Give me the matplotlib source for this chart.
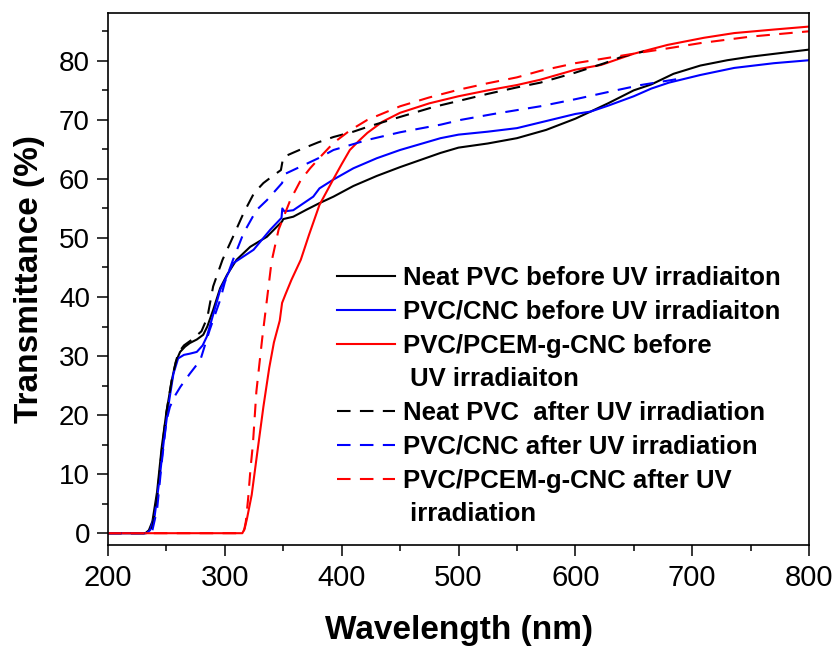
import matplotlib
matplotlib.use("Agg")
import matplotlib.pyplot as plt
from matplotlib.lines import Line2D
from matplotlib.ticker import MultipleLocator

plt.rcParams['font.family'] = ['Liberation Sans', 'DejaVu Sans']

# ---------------- data ----------------
neat_before_wl = [200, 232, 235, 238, 242, 246, 250, 254.6, 258, 261.7, 266, 270, 276, 281.5, 285, 290,
                  296, 302, 310, 321.7, 336, 349, 350, 358.6, 370, 381, 393, 410, 430, 450, 484.6, 500,
                  525, 550, 575, 600, 613, 628, 650, 665, 684, 707, 730, 750, 775, 800]
neat_before_t = [0, 0, 0.5, 2, 7, 14.6, 20.5, 25.9, 29, 30.7, 31.6, 32.2, 32.8, 33.6, 35, 37.8,
                 41.5, 43.8, 46.3, 48.5, 50.2, 52.8, 53.2, 53.6, 54.8, 55.9, 57, 58.8, 60.5, 62, 64.4, 65.3,
                 66, 66.9, 68.3, 70.2, 71.4, 72.8, 75, 76, 77.8, 79.2, 80.1, 80.7, 81.3, 81.9]

cnc_before_wl = [200, 233, 236, 240, 244, 248, 252, 256, 260, 265, 270, 276, 281, 284.6, 290, 296,
                 307, 324.6, 338.9, 348.5, 349.2, 351, 358.6, 375.7, 381, 393, 410, 430, 450, 484.6,
                 500, 525, 550, 575, 600, 613, 628, 650, 665, 680, 707, 736, 770, 800]
cnc_before_t = [0, 0, 0.5, 3, 9, 16, 22, 27, 29.6, 30.2, 30.4, 30.7, 31.8, 33.3, 37, 41.2,
                45.7, 48, 51.4, 53.4, 55, 54.5, 54.7, 57, 58.4, 59.9, 61.8, 63.5, 64.9, 66.9,
                67.5, 68, 68.6, 69.8, 71, 71.4, 72.4, 74, 75.3, 76.3, 77.6, 78.8, 79.6, 80.1]

pcem_before_wl = [200, 315, 317, 319, 323, 327, 333, 338, 342, 347, 348, 349, 352, 357, 365, 372, 381,
                  393, 400, 407, 415, 422, 435, 450, 475, 500, 525, 550, 570, 600, 622, 650, 679,
                  710, 736, 770, 800]
pcem_before_t = [0, 0, 0.8, 2.5, 6.5, 12.5, 21.4, 28, 32.3, 36, 37.5, 39, 40.5, 42.9, 46.3, 50.5, 55.6,
                 60, 62.5, 64.9, 66.5, 67.8, 69.7, 71.2, 72.8, 74, 75, 75.9, 76.8, 78.5, 79.3, 81.2, 82.7,
                 83.9, 84.7, 85.3, 85.8]

neat_after_wl = [200, 235, 238, 242, 246, 250, 255, 260, 265, 272, 280, 285, 290, 298, 307, 316,
                 325, 333, 341, 348, 350, 358, 365, 380, 393, 410, 422, 450, 479, 500, 525, 550,
                 570, 600, 625, 640, 659]
neat_after_t = [0, 0, 1, 6, 14, 20.5, 26.5, 30.5, 31.8, 32.8, 34.2, 36.5, 41.8, 46.3, 50.2, 54.2,
                57.6, 59.3, 60.5, 61.5, 63.7, 64.4, 65, 66.2, 67.1, 68, 68.8, 70.5, 72.2, 73.2, 74.4, 75.5,
                76.3, 78, 79.6, 80.7, 81.6]

cnc_after_wl = [200, 236, 238, 242, 246, 250, 253, 258, 262, 270, 279, 287, 296, 300, 307, 316,
                327, 336, 349, 351, 365, 380, 393, 422, 450, 485, 502, 530, 570, 600, 630, 656,
                684, 690]
cnc_after_t = [0, 0, 0.5, 4, 12, 19, 21.4, 23.5, 24.8, 27, 29.3, 34.4, 39.5, 42.5, 46.3, 50.8,
               54.7, 56.4, 59.3, 60.8, 62.1, 63.5, 64.9, 66.6, 67.9, 69.2, 70, 71, 72.3, 73.5, 74.8, 75.9,
               76.8, 77]

pcem_after_wl = [200, 316, 318, 320, 322, 324, 327, 332, 336, 340, 346, 356, 365, 373, 383, 393,
                 407, 422, 450, 475, 500, 525, 550, 570, 600, 628, 656, 682, 707, 750, 800]
pcem_after_t = [0, 0, 2, 6, 11, 15, 24, 33, 39.5, 46, 51.4, 56.4, 59.8, 61.8, 64, 66.1,
                68.2, 70, 72.3, 73.8, 75.1, 76.2, 77.2, 78.3, 79.6, 80.5, 81.4, 82.2, 83, 84.1, 85]

labels = ["Neat PVC before UV irradiaiton",
          "PVC/CNC before UV irradiaiton",
          "PVC/PCEM-g-CNC before",
          " UV irradiaiton",
          "Neat PVC  after UV irradiation",
          "PVC/CNC after UV irradiation",
          "PVC/PCEM-g-CNC after UV",
          " irradiation"]

x_ticks = [200, 300, 400, 500, 600, 700, 800]
y_ticks = [0, 10, 20, 30, 40, 50, 60, 70, 80]

# ---------------- figure ----------------
fig = plt.figure(figsize=(8.38, 6.48), dpi=100)
ax = fig.add_axes([108 / 838, 1 - 545 / 648, (809 - 108) / 838, (545 - 13) / 648])

lw = 1.5
dash = (6.5, 4.5)
l1, = ax.plot(neat_before_wl, neat_before_t, color='black', lw=lw)
l2, = ax.plot(cnc_before_wl, cnc_before_t, color='#0000FF', lw=lw)
l3, = ax.plot(pcem_before_wl, pcem_before_t, color='#FF0000', lw=lw)
l4, = ax.plot(neat_after_wl, neat_after_t, color='black', lw=lw, linestyle=(0, dash))
l5, = ax.plot(cnc_after_wl, cnc_after_t, color='#0000FF', lw=lw, linestyle=(0, dash))
l6, = ax.plot(pcem_after_wl, pcem_after_t, color='#FF0000', lw=lw, linestyle=(0, dash))

blank1 = Line2D([], [], color='none')
blank2 = Line2D([], [], color='none')

ax.set_xlim(200, 800)
ax.set_ylim(-2.0, 88.1)
ax.set_xticks(x_ticks)
ax.set_yticks(y_ticks)
ax.xaxis.set_minor_locator(MultipleLocator(50))
ax.yaxis.set_minor_locator(MultipleLocator(5))
ax.tick_params(which='major', direction='out', length=8, width=1.1)
ax.tick_params(which='minor', direction='out', length=4.5, width=1.1)
ax.tick_params(axis='x', labelsize=21, pad=5.5)
ax.tick_params(axis='y', labelsize=20, pad=5)
for s in ax.spines.values():
    s.set_linewidth(1.2)

ax.set_xlabel("Wavelength (nm)", fontsize=24, fontweight='bold', labelpad=17)
ax.set_ylabel("Transmittance (%)", fontsize=24, fontweight='bold', labelpad=10)

leg = ax.legend([l1, l2, l3, blank1, l4, l5, l6, blank2], labels,
                loc='upper left', bbox_to_anchor=(332 / 838, 1 - 261 / 648),
                bbox_transform=fig.transFigure, frameon=False,
                prop={'size': 18.5, 'weight': 'bold'},
                handlelength=2.25, handletextpad=0.3, labelspacing=0.38,
                borderpad=0.2, borderaxespad=0)

fig.savefig("out.png", dpi=100)
